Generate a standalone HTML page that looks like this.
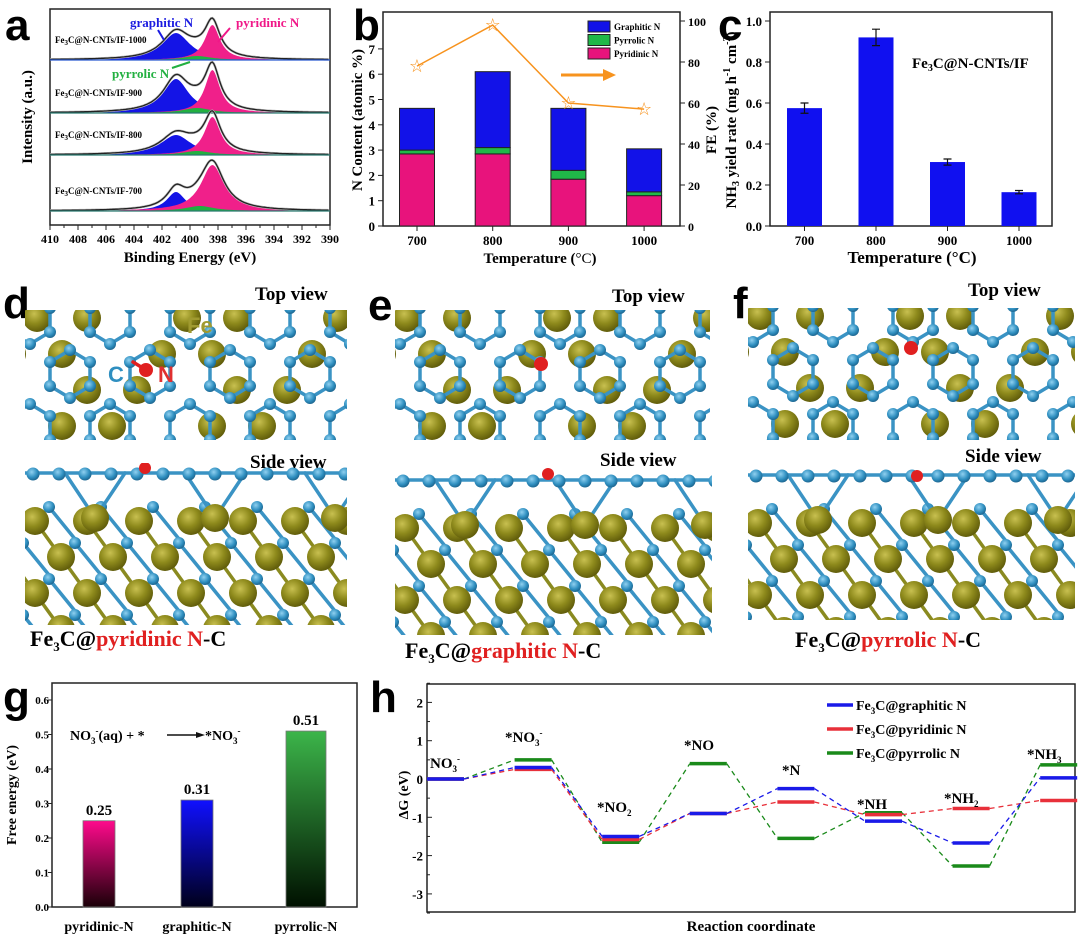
<!DOCTYPE html>
<html><head><meta charset="utf-8"><style>
body{margin:0;background:#fff}
svg{display:block;font-family:"Liberation Serif",serif}
.L{font-family:"Liberation Sans",sans-serif;font-weight:bold;font-size:44px}
</style></head><body>
<svg id="s" width="1080" height="946" viewBox="0 0 1080 946" xmlns="http://www.w3.org/2000/svg">
<defs>
<clipPath id="cd1"><rect x="25" y="310" width="322" height="130"/></clipPath>
<clipPath id="cd2"><rect x="25" y="463" width="322" height="162"/></clipPath>
<clipPath id="ce1"><rect x="395" y="310" width="315" height="130"/></clipPath>
<clipPath id="ce2"><rect x="395" y="468" width="317" height="167"/></clipPath>
<clipPath id="cf1"><rect x="748" y="308" width="327" height="132"/></clipPath>
<clipPath id="cf2"><rect x="748" y="468" width="327" height="152"/></clipPath>
<linearGradient id="gp" x1="0" y1="0" x2="0" y2="1"><stop offset="0" stop-color="#ff0a8c"/><stop offset="1" stop-color="#1a0008"/></linearGradient>
<linearGradient id="gb" x1="0" y1="0" x2="0" y2="1"><stop offset="0" stop-color="#1010ff"/><stop offset="1" stop-color="#00001a"/></linearGradient>
<linearGradient id="gg" x1="0" y1="0" x2="0" y2="1"><stop offset="0" stop-color="#3cb54a"/><stop offset="1" stop-color="#001000"/></linearGradient>
<radialGradient id="fe" cx="0.4" cy="0.35" r="0.7"><stop offset="0" stop-color="#c8c050"/><stop offset="0.5" stop-color="#8e8a1c"/><stop offset="1" stop-color="#5a5608"/></radialGradient>
<radialGradient id="cc" cx="0.4" cy="0.35" r="0.7"><stop offset="0" stop-color="#8fd0f0"/><stop offset="0.6" stop-color="#2f8fc0"/><stop offset="1" stop-color="#1a5f88"/></radialGradient>
</defs>
<g id="root"></g>
</svg>
<script>
// ---------- data ----------
const aSamples = ["Fe3C@N-CNTs/IF-1000","Fe3C@N-CNTs/IF-900","Fe3C@N-CNTs/IF-800","Fe3C@N-CNTs/IF-700"];
const aBaseY = [60,113,155,211];
const aGraphitic = [[401.0,27,1.2],[401.0,34,1.1],[401.0,20,1.3],[401.0,19,0.8]];
const aPyridinic = [[398.4,35,0.65],[398.4,43,0.65],[398.4,38,0.7],[398.4,46,1.0]];
const aPyrrolic = [[399.5,4,1.2],[399.5,5,1.2],[399.5,4,1.2],[399.3,5,1.2]];
const aTicks = [410,408,406,404,402,400,398,396,394,392,390];
const bCats = ["700","800","900","1000"];
const bPyridinic = [2.85,2.85,1.85,1.2];
const bPyrrolic = [0.15,0.25,0.35,0.15];
const bGraphitic = [1.65,3.0,2.45,1.7];
const bFE = [78,98,60,57];
const bLeftTicks = [0,1,2,3,4,5,6,7];
const bRightTicks = [0,20,40,60,80,100];
const cCats = ["700","800","900","1000"];
const cVals = [0.575,0.92,0.312,0.165];
const cErr = [0.025,0.04,0.015,0.008];
const cTicks = [0,0.2,0.4,0.6,0.8,1.0];
const gCats = ["pyridinic-N","graphitic-N","pyrrolic-N"];
const gVals = [0.25,0.31,0.51];
const gTicks = [0,0.1,0.2,0.3,0.4,0.5,0.6];
const hSteps = ["NO3-","*NO3-","*NO2","*NO","*N","*NH","*NH2","*NH3"];
const hGraphitic = [0,0.3,-1.5,-0.9,-0.25,-1.1,-1.67,0.03];
const hPyridinic = [0,0.25,-1.58,-0.9,-0.6,-0.93,-0.77,-0.56];
const hPyrrolic = [0,0.5,-1.65,0.4,-1.55,-0.88,-2.27,0.37];
const hTicks = [2,1,0,-1,-2,-3];

const NS="http://www.w3.org/2000/svg";
const root=document.getElementById('root');
function E(tag,at,parent){const e=document.createElementNS(NS,tag);for(const k in at)e.setAttribute(k,at[k]);(parent||root).appendChild(e);return e;}
function T(x,y,str,size,at,parent){const e=E('text',Object.assign({x:x,y:y,'font-size':size,'font-weight':'bold'},at||{}),parent);e.innerHTML=str;return e;}
function G(name,parent){const g=E('g',{},parent);return g;}

[["a",5,40],["b",353,40],["c",718,40],["d",3,318],["e",368,320],["f",733,318],["g",3,712],["h",370,712]].forEach(l=>{
 const t=T(l[1],l[2],l[0],44,{'class':'L'});});

// ---------- panel a ----------
(function(){
 const g=G('panel-a-xps');
 const X=v=>50+(410-v)*14;
 E('rect',{x:50,y:9,width:280,height:216,fill:'none',stroke:'#222','stroke-width':1.5},g);
 aTicks.forEach(t=>{E('line',{x1:X(t),x2:X(t),y1:225,y2:230,stroke:'#222'},g);T(X(t),243,t,12,{'text-anchor':'middle'},g);});
 for(let t=409;t>390;t-=2)E('line',{x1:X(t),x2:X(t),y1:225,y2:228,stroke:'#222'},g);
 T(190,262,'Binding Energy (eV)',15,{'text-anchor':'middle'},g);
 T(0,0,'Intensity (a.u.)',15,{'text-anchor':'middle',transform:'translate(32,117) rotate(-90)'},g);
 const L=(p,v)=>p[1]/(1+Math.pow((v-p[0])/p[2],2));
 aSamples.forEach((s,i)=>{
  const b=aBaseY[i];
  const peak=(p,col,nm)=>{let d='M'+X(410)+','+b;for(let v=410;v>=390;v-=0.1)d+=' L'+X(v).toFixed(1)+','+(b-L(p,v)).toFixed(1);d+=' L'+X(390)+','+b+'Z';const e=E('path',{d:d,fill:col},g);};
  let env='';for(let v=410;v>=390;v-=0.1){const y=b-L(aGraphitic[i],v)-L(aPyridinic[i],v)-L(aPyrrolic[i],v);env+=(env?' L':'M')+X(v).toFixed(1)+','+y.toFixed(1);}
  peak(aGraphitic[i],'#1414e6','graphitic-peak');
  peak(aPyridinic[i],'#f0208a','pyridinic-peak');
  peak(aPyrrolic[i],'#22b040','pyrrolic-peak');
  E('path',{d:env,fill:'none',stroke:'#bbb','stroke-width':2.5},g);
  E('path',{d:env,fill:'none',stroke:'#222','stroke-width':1.3},g);
  E('line',{x1:50,x2:330,y1:b,y2:b,stroke:i==0?'#2a5ad0':'#2a7a70','stroke-width':1.2},g);
  T(55,b-17,s.replace('Fe3C','Fe<tspan font-size="7" dy="2">3</tspan><tspan dy="-2">C</tspan>'),9,{},g);
 });
 T(130,27,'graphitic N',13,{fill:'#1a1ae0'},g);
 T(236,27,'pyridinic N',13,{fill:'#f01888'},g);
 T(112,78,'pyrrolic N',13,{fill:'#22b040'},g);
 E('line',{x1:158,y1:30,x2:164,y2:40,stroke:'#1a1ae0','stroke-width':2},g);
 E('line',{x1:230,y1:28,x2:218,y2:42,stroke:'#f01888','stroke-width':2},g);
 E('line',{x1:190,y1:62,x2:172,y2:68,stroke:'#22b040','stroke-width':2},g);
})();

// ---------- panel b ----------
(function(){
 const g=G('panel-b-n-content');
 const x0=383,x1=680,y0=226,yt=12;
 const Y=v=>y0-v*25.3, YR=v=>y0-v*2.05;
 const X=i=>417+i*75.7;
 E('rect',{x:x0,y:yt,width:x1-x0,height:y0-yt,fill:'none',stroke:'#222','stroke-width':1.5},g);
 bLeftTicks.forEach(t=>{E('line',{x1:x0,x2:x0-5,y1:Y(t),y2:Y(t),stroke:'#222'},g);T(x0-8,Y(t)+5,t,13,{'text-anchor':'end'},g);});
 bRightTicks.forEach(t=>{E('line',{x1:x1,x2:x1+5,y1:YR(t),y2:YR(t),stroke:'#222'},g);T(x1+8,YR(t)+5,t,12,{},g);});
 bCats.forEach((c,i)=>{
  const bx=X(i)-17.5;let acc=0;
  [[bPyridinic,'#e8137c','pyridinic'],[bPyrrolic,'#20b848','pyrrolic'],[bGraphitic,'#1212e8','graphitic']].forEach(s=>{
   const r=E('rect',{x:bx,y:Y(acc+s[0][i]),width:35,height:s[0][i]*25.3,fill:s[1],stroke:'#222','stroke-width':1},g);
   acc+=s[0][i];});
  E('line',{x1:X(i),x2:X(i),y1:y0,y2:y0+5,stroke:'#222'},g);
  T(X(i),245,c,13,{'text-anchor':'middle'},g);
 });
 let d='';bFE.forEach((v,i)=>{d+=(i?' L':'M')+X(i)+','+YR(v);});
 E('path',{d:d,fill:'none',stroke:'#f7931e','stroke-width':1.5},g);
 bFE.forEach((v,i)=>{const s=T(X(i),YR(v)+6,'☆',18,{'text-anchor':'middle',fill:'#f7931e','font-family':'DejaVu Sans'},g);});
 E('line',{x1:561,x2:605,y1:75,y2:75,stroke:'#f7931e','stroke-width':3},g);
 E('path',{d:'M603,69 L616,75 L603,81Z',fill:'#f7931e'},g);
 [['Graphitic N','#1212e8'],['Pyrrolic N','#20b848'],['Pyridinic N','#e8137c']].forEach((l,i)=>{
  E('rect',{x:588,y:21+i*13.5,width:22,height:11,fill:l[1],stroke:'#222'},g);T(614,30+i*13.5,l[0],9,{},g);});
 T(540,263,'Temperature (<tspan font-weight="normal">°C</tspan>)',15,{'text-anchor':'middle'},g);
 T(0,0,'N Content (atomic %)',15,{'text-anchor':'middle',transform:'translate(362,120) rotate(-90)'},g);
 T(0,0,'FE (%)',15,{'text-anchor':'middle',transform:'translate(716,130) rotate(-90)'},g);
})();

// ---------- panel c ----------
(function(){
 const g=G('panel-c-nh3-yield');
 const x0=770,x1=1052,y0=226,yt=12;
 const Y=v=>y0-v*205, X=i=>804.5+i*71.5;
 E('rect',{x:x0,y:yt,width:x1-x0,height:y0-yt,fill:'none',stroke:'#222','stroke-width':1.5},g);
 cTicks.forEach(t=>{E('line',{x1:x0,x2:x0-5,y1:Y(t),y2:Y(t),stroke:'#222'},g);T(x0-8,Y(t)+5,t.toFixed(1),13,{'text-anchor':'end'},g);});
 cCats.forEach((c,i)=>{
  const r=E('rect',{x:X(i)-17.5,y:Y(cVals[i]),width:35,height:cVals[i]*205,fill:'#1010f0'},g);
  
  const yt1=Y(cVals[i]+cErr[i]),yb=Y(cVals[i]-cErr[i]);
  E('path',{d:`M${X(i)},${yt1}V${yb}M${X(i)-4},${yt1}H${X(i)+4}M${X(i)-4},${yb}H${X(i)+4}`,stroke:'#111','stroke-width':1.2},g);
  E('line',{x1:X(i),x2:X(i),y1:y0,y2:y0+5,stroke:'#222'},g);
  T(X(i),245,c,13,{'text-anchor':'middle'},g);
 });
 T(912,68,'Fe<tspan font-size="10" dy="3">3</tspan><tspan dy="-3">C@N-CNTs/IF</tspan>',15,{},g);
 T(912,263,'Temperature (°C)',17,{'text-anchor':'middle'},g);
 T(0,0,'NH<tspan font-size="10" dy="3">3</tspan><tspan dy="-3"> yield rate (mg h</tspan><tspan font-size="10" dy="-6">-1</tspan><tspan dy="6"> cm</tspan><tspan font-size="10" dy="-6">-2</tspan><tspan dy="6">)</tspan>',15,{'text-anchor':'middle',transform:'translate(736,120) rotate(-90)'},g);
})();

// ---------- structures ----------
function atom(g,x,y,r,fill){E('circle',{cx:x,cy:y,r:r,fill:fill},g);}
function bond(g,x1,y1,x2,y2,col){E('line',{x1:x1,y1:y1,x2:x2,y2:y2,stroke:col||'#3a93c4','stroke-width':3.5,'stroke-linecap':'round'},g);}
function topView(name,clip,x0,y0,w,h){
 const g=G(name);g.setAttribute('clip-path','url(#'+clip+')');
 for(let j=0;j<4;j++)for(let i=-1;i<w/50+2;i++){
  if((i+j)%3==2)continue;
  atom(g,x0+i*50+(j%2?25:0)+12,y0+j*36+8,14,'url(#fe)');}
 const pts=[];
 const hx=[[0,-24],[20,-12],[20,12],[0,24],[-20,12],[-20,-12]];
 for(let j=-1;j<4;j++)for(let i=-1;i<w/80+2;i++){
  const cx=x0+i*80+(j%2?40:0)+5,cy=y0+j*36*2*0.5+j*36*0.5+10;
  for(let k=0;k<6;k++){const a=hx[k],b=hx[(k+1)%6];bond(g,cx+a[0],cy+a[1],cx+b[0],cy+b[1]);}
  hx.forEach(a=>pts.push([cx+a[0],cy+a[1]]));
 }
 pts.forEach(p=>atom(g,p[0],p[1],6,'url(#cc)'));
 return g;
}
function sideView(name,clip,x0,y0,w,h,top){
 const g=G(name);g.setAttribute('clip-path','url(#'+clip+')');
 for(let j=0;j<4;j++)for(let i=-1;i<w/52+2;i++){
  const x=x0+i*52+(j%2?26:0)+10,y=top+48+j*36;
  bond(g,x,y,x+26,y+36,'#8a8a20');
  bond(g,x+14,y-14,x+40,y+18);
  atom(g,x,y,14,'url(#fe)');
  atom(g,x+14,y-14,6,'url(#cc)');
 }
 for(let i=0;i<w/120+1;i++){bond(g,x0+40+i*120,top,x0+70+i*120,top+45);bond(g,x0+100+i*120,top,x0+70+i*120,top+45);atom(g,x0+70+i*120,top+45,14,'url(#fe)');}
 bond(g,x0,top,x0+w,top);
 for(let i=0;i<w/26+1;i++){atom(g,x0+8+i*26,top+1,6.5,'url(#cc)');}
 return g;
}
let d1=topView('structure-d-top','cd1',25,310,322,130);
bond(d1,133,362,146,370,'#e02020');atom(d1,146,370,7,'#e02020');
T(108,382,'C',22,{fill:'#2f8fc0','font-family':'Liberation Sans'},d1);
T(158,382,'N',22,{fill:'#e03030','font-family':'Liberation Sans'},d1);
T(187,333,'Fe',22,{fill:'#a09a30','font-family':'Liberation Sans'},d1);
let d2=sideView('structure-d-side','cd2',25,463,322,162,473);atom(d2,145,468,6,'#e02020');
let e1=topView('structure-e-top','ce1',395,310,315,130);atom(e1,541,364,7,'#e02020');
let e2=sideView('structure-e-side','ce2',395,468,317,167,480);atom(e2,548,474,6,'#e02020');
let f1=topView('structure-f-top','cf1',748,308,327,132);atom(f1,911,348,7,'#e02020');
let f2=sideView('structure-f-side','cf2',748,468,327,152,475);atom(f2,917,476,6,'#e02020');
[['Top view',255,300],['Side view',250,468],['Top view',612,302],['Side view',600,466],['Top view',968,296],['Side view',965,462]].forEach(t=>{const e=T(t[1],t[2],t[0],19);});
[['pyridinic',30,646],['graphitic',405,658],['pyrrolic',795,647]].forEach(c=>{
 const e=T(c[1],c[2],'Fe<tspan font-size="13" dy="5">3</tspan><tspan dy="-5">C@</tspan><tspan fill="#e02020">'+c[0]+' N</tspan>-C',22);
 });

// ---------- panel g ----------
(function(){
 const g=G('panel-g-free-energy');
 const x0=52,x1=357,y0=907,yt=683;
 const Y=v=>y0-v*345;
 const bx=[99,197,306], bw=[32,32,40];
 E('rect',{x:x0,y:yt,width:x1-x0,height:y0-yt,fill:'none',stroke:'#222','stroke-width':1.5},g);
 gTicks.forEach(t=>{E('line',{x1:x0,x2:x0-4,y1:Y(t),y2:Y(t),stroke:'#222'},g);T(x0-3,Y(t)+4,t.toFixed(1),11,{'text-anchor':'end'},g);});
 const fills=['url(#gp)','url(#gb)','url(#gg)'];
 gCats.forEach((c,i)=>{
  const r=E('rect',{x:bx[i]-bw[i]/2,y:Y(gVals[i]),width:bw[i],height:gVals[i]*345,fill:fills[i],stroke:'#777','stroke-width':0.8},g);
  
  T(bx[i],Y(gVals[i])-6,gVals[i].toFixed(2),15,{'text-anchor':'middle'},g);
  T(bx[i],931,c,14,{'text-anchor':'middle'},g);
 });
 T(70,740,'NO<tspan font-size="9" dy="4">3</tspan><tspan font-size="9" dy="-10">-</tspan><tspan dy="6">(aq) + *</tspan>',14,{},g);
 E('line',{x1:167,x2:200,y1:735,y2:735,stroke:'#111','stroke-width':1.5},g);
 E('path',{d:'M196,732 L205,735 L196,738Z',fill:'#111'},g);
 T(205,740,'*NO<tspan font-size="9" dy="4">3</tspan><tspan font-size="9" dy="-10">-</tspan>',14,{},g);
 T(0,0,'Free energy (eV)',14,{'text-anchor':'middle',transform:'translate(16,795) rotate(-90)'},g);
})();

// ---------- panel h ----------
(function(){
 const g=G('panel-h-free-energy-diagram');
 const x0=427,x1=1075,yt=684,yb=912;
 const Y=v=>779-v*38.3;
 const XS=i=>427+i*87.6, W=37;
 E('rect',{x:x0,y:yt,width:x1-x0,height:yb-yt,fill:'none',stroke:'#222','stroke-width':1.5},g);
 hTicks.forEach(t=>{E('line',{x1:x0,x2:x0+5,y1:Y(t),y2:Y(t),stroke:'#222'},g);T(x0-4,Y(t)+5,t,13,{'text-anchor':'end'},g);});
 for(let t=-3.5;t<2.6;t+=1)E('line',{x1:x0,x2:x0+3,y1:Y(t),y2:Y(t),stroke:'#222'},g);
 const series=[[hPyrrolic,'#1a8a1a','pyrrolic'],[hPyridinic,'#e8303a','pyridinic'],[hGraphitic,'#1a1ae8','graphitic']];
 series.forEach(s=>{
  const sg=G('series-'+s[2],g);
  s[0].forEach((v,i)=>{
   if(i>0)E('line',{x1:XS(i-1)+W,y1:Y(s[0][i-1]),x2:XS(i),y2:Y(v),stroke:s[1],'stroke-width':1.3,'stroke-dasharray':'5,4'},sg);
   E('line',{x1:XS(i),x2:XS(i)+W,y1:Y(v),y2:Y(v),stroke:s[1],'stroke-width':3.5},sg);
  });
 });
 const lab=[['NO<tspan font-size="9" dy="4">3</tspan><tspan font-size="9" dy="-10">-</tspan>',430,768],
  ['*NO<tspan font-size="9" dy="4">3</tspan><tspan font-size="9" dy="-10">-</tspan>',505,742],
  ['*NO<tspan font-size="9" dy="4">2</tspan>',597,812],['*NO',684,750],['*N',782,775],['*NH',857,809],
  ['*NH<tspan font-size="9" dy="4">2</tspan>',944,803],['*NH<tspan font-size="9" dy="4">3</tspan>',1027,759]];
 lab.forEach(l=>T(l[1],l[2],l[0],15,{},g));
 [['graphitic','#1a1ae8'],['pyridinic','#e8303a'],['pyrrolic','#1a8a1a']].forEach((l,i)=>{
  const y=705+i*24;E('line',{x1:827,x2:853,y1:y,y2:y,stroke:l[1],'stroke-width':3.5},g);
  T(856,y+5,'Fe<tspan font-size="9" dy="4">3</tspan><tspan dy="-4">C@'+l[0]+' N</tspan>',14,{},g);});
 T(751,931,'Reaction coordinate',15,{'text-anchor':'middle'},g);
 T(0,0,'ΔG (eV)',14,{'text-anchor':'middle',transform:'translate(408,795) rotate(-90)'},g);
})();
</script>
</body></html>
